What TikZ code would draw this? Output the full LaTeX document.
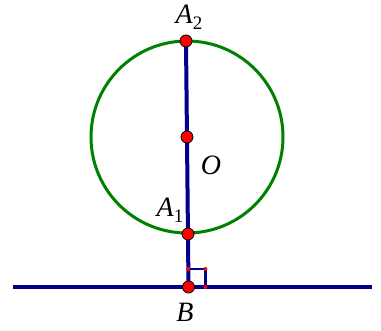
\documentclass[tikz,border=0pt]{standalone}
\usepackage{fontspec}
\setmainfont{Liberation Serif}
\usepackage{tikz}
\definecolor{navy}{RGB}{0,0,140}
\definecolor{dgreen}{RGB}{0,128,0}
\newcommand{\lsub}[1]{\raisebox{-0.22em}{\fontsize{19}{19}\selectfont\upshape #1}}
\tikzset{
  pt/.style={circle,fill=red,draw=black,line width=0.8pt,inner sep=0pt,minimum size=12pt},
  smalldot/.style={circle,fill=red,inner sep=0pt,minimum size=4pt},
  lbl/.style={font=\fontsize{28}{32}\selectfont\itshape},
  ln/.style={draw=navy,line width=4pt},
}
\begin{document}
\begin{tikzpicture}[x=1pt,y=-1pt]
\useasboundingbox (0,0) rectangle (381,331);
\coordinate (L) at (13,287);
\coordinate (R) at (372,287);
\coordinate (B) at (188.5,287);
\coordinate (A2) at (186,41);
\coordinate (O) at (187,137);
\coordinate (A1) at (188,234);
\coordinate (S1) at (188.3,269);
\coordinate (S2) at (205.5,269);
\coordinate (S3) at (205.5,287);
\draw[dgreen,line width=3pt] (O) circle[radius=96];
\path[ln] (L) -- (R);
\path[ln] (A2) -- (B);
\draw[navy,line width=2.5pt] (S1) -- (S2) -- (S3);
\node[smalldot] at (S1) {};
\node[smalldot] at (S2) {};
\node[smalldot] at (S3) {};
\node[pt] (pA2) at (A2) {};
\node[pt] (pO) at (O) {};
\node[pt] (pA1) at (A1) {};
\node[pt] (pB) at (B) {};
\node[lbl] (tA2) at (189,17) {A\lsub{2}};
\node[lbl] (tO) at (211,165) {O};
\node[lbl] (tA1) at (170,210) {A\lsub{1}};
\node[lbl] (tB) at (185,312) {B};
\end{tikzpicture}
\end{document}
